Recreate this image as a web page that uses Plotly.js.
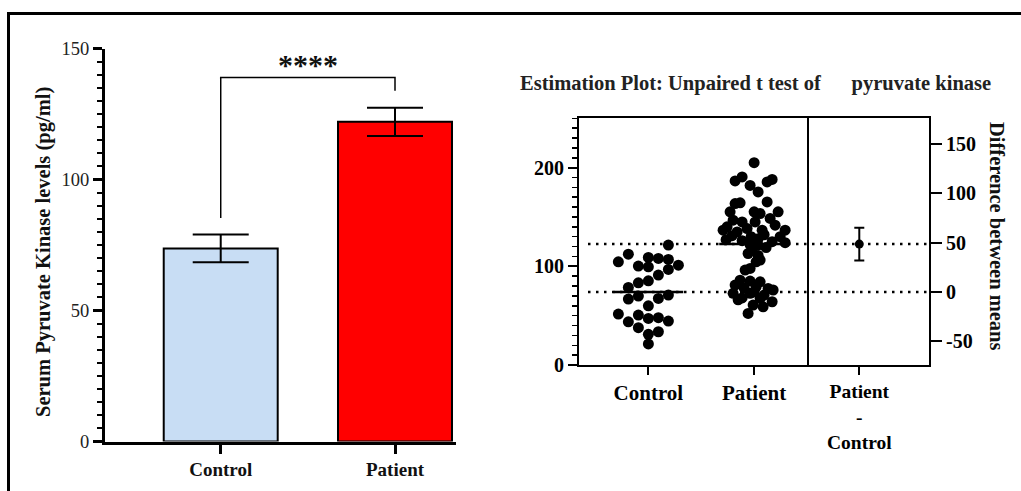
<!DOCTYPE html>
<html>
<head>
<meta charset="utf-8">
<script src="https://cdn.plot.ly/plotly-3.0.1.min.js"></script>
<style>html,body{margin:0;padding:0;background:#fff;}#chart{width:1021px;height:491px;}</style>
</head>
<body>
<div id="chart"></div>
<script>
// ---------- data ----------
const categories = ['Control', 'Patient'];
const barMeans = [73.7, 122.0];
const barSEM = [5.3, 5.35];
const barColors = ['#c8ddf4', '#ff0000'];
const bracketBase = [85.3, 133.9];
const bracketTop = 138.9;
const sigLabel = '****';

const ctrlValues = [121.5, 112.3, 104.6, 109, 108, 107, 100.2, 99.5, 101.2, 96.9, 91.1, 85.3, 83.3, 78.6,
  66.8, 69.8, 67.5, 70.9, 60, 51.6, 43.8, 50.6, 47.2, 47.9, 44.5, 37.8, 31.1, 33.7, 21.3];
const ctrlSlots = [2, -2, -3, 0, 1, 2, -1, 0, 3, 2, 1, 0, -1, -2, -2, -1, 1, 2, 0, -3, -2, -1, 0, 1, 2, -1, 0, 1, 0];

const patValues = [205, 190.6, 186.5, 182, 175.4, 185.5, 188, 165.3, 164.3, 163.6,
  155.2, 155.2, 153.5, 155.2, 146.8, 145, 145, 148.5, 140, 138.3,
  141.7, 136.6, 134.9, 136.6, 136.6, 131, 130, 132, 130,
  127, 126, 128, 125, 124, 122, 121.5, 119,
  116, 113, 111, 106.3, 104.6, 97.9, 96.2,
  86, 84.3, 85, 81, 79.3, 77.6, 76, 72.6, 72.6, 70.9, 68, 66, 67.5, 64.1, 60.7, 59, 52.3, 78, 74];
const patSlots = [0, -1.2, -1.9, -0.4, 0.4, 1.3, 1.8, 1.3, -1.4, -1.9,
  -2.4, 0, 0.6, 2.4, -2.1, -1.2, 0.1, 1.6, -2.7, -0.7,
  2.1, -3.1, -1.7, 0.8, 3.1, -2.2, -0.3, 1.0, 2.6,
  -2.8, -1.2, 0.4, 1.8, 3.1, -0.4, 0.4, 1.2,
  -0.2, -0.6, 0.4, 0.6, 0.2, -0.4, -0.9,
  -1.4, 0.6, -0.4, -1.9, 0.2, 1.4, 1.9, -2.1, -0.4, 1.0, -1.2, -1.6, 0.6, 1.8, -0.1, 0.9, -0.6, -1.0, 0.0];

const groupMeans = [74, 122.5];
const diffLabel = ['Patient<br>-<br>Control'];
const diffMean = [48.5];
const diffCILow = [32];
const diffCIHigh = [65];
const rightTicks = [-50, 0, 50, 100, 150];

// ---------- layout helpers ----------
const W = 1021, H = 491;
const px = v => v / W;
const py = v => 1 - v / H;
const SERIF = 'Liberation Serif';
const slotW = 0.0946;

const traces = [];
traces.push({
  type: 'bar', x: [0, 1], y: barMeans, width: 0.654,
  marker: {color: barColors, line: {color: '#000', width: 2}},
  error_y: {type: 'data', array: barSEM, visible: true, color: '#000', thickness: 2, width: 28},
  xaxis: 'x', yaxis: 'y', hoverinfo: 'none'
});
traces.push({
  type: 'scatter', mode: 'markers', xaxis: 'x2', yaxis: 'y2',
  x: ctrlSlots.map(s => 0 + s * slotW), y: ctrlValues,
  marker: {color: '#000', size: 11}, hoverinfo: 'none'
});
traces.push({
  type: 'scatter', mode: 'markers', xaxis: 'x2', yaxis: 'y2',
  x: patSlots.map(s => 1 + s * slotW), y: patValues,
  marker: {color: '#000', size: 11}, hoverinfo: 'none'
});
groupMeans.forEach((m, i) => {
  traces.push({
    type: 'scatter', mode: 'lines', xaxis: 'x2', yaxis: 'y2',
    x: [i - 0.33, i + 0.33], y: [m, m], line: {color: '#000', width: 2.5}, hoverinfo: 'none'
  });
});
traces.push({
  type: 'scatter', mode: 'markers', xaxis: 'x3', yaxis: 'y3',
  x: [0], y: diffMean, marker: {color: '#000', size: 9},
  error_y: {type: 'data', symmetric: false,
    array: diffCIHigh.map((h, i) => h - diffMean[i]),
    arrayminus: diffCILow.map((l, i) => diffMean[i] - l),
    color: '#000', thickness: 2, width: 5},
  hoverinfo: 'none'
});

const shapes = [
  // outer frame (top & left)
  {type: 'line', xref: 'paper', yref: 'paper', x0: px(7), x1: 1, y0: py(13.5), y1: py(13.5), line: {color: '#000', width: 3}},
  {type: 'line', xref: 'paper', yref: 'paper', x0: px(8.5), x1: px(8.5), y0: 0, y1: py(12), line: {color: '#000', width: 3}},
  // significance bracket
  {type: 'path', xref: 'x', yref: 'y',
   path: `M 0,${bracketBase[0]} L 0,${bracketTop} L 1,${bracketTop} L 1,${bracketBase[1]}`,
   line: {color: '#000', width: 1.5}}
];
groupMeans.forEach(m => {
  shapes.push({type: 'line', xref: 'paper', yref: 'y2', x0: px(588), x1: px(929), y0: m, y1: m,
    line: {color: '#000', width: 2.5, dash: '2.5px,5.5px'}});
});

const axBase = {showgrid: false, zeroline: false, showline: true, linecolor: '#000', ticks: 'outside', tickcolor: '#000', fixedrange: true};

const layout = {
  width: W, height: H, margin: {l: 0, r: 0, t: 0, b: 0},
  paper_bgcolor: '#fff', plot_bgcolor: 'rgba(0,0,0,0)', showlegend: false,
  font: {family: SERIF, color: '#000'},
  xaxis: Object.assign({}, axBase, {
    domain: [px(105), px(456)], range: [-0.664, 1.35], anchor: 'y',
    linewidth: 3, ticklen: 9, tickwidth: 3, tickvals: [0, 1], ticktext: categories,
    tickfont: {family: SERIF, size: 19, color: '#111', weight: 'bold'}
  }),
  yaxis: Object.assign({}, axBase, {
    domain: [1 - 441.5 / H, 1 - 48.5 / H], range: [0, 150], anchor: 'x',
    linewidth: 3, ticklen: 9, tickwidth: 3, tick0: 0, dtick: 50,
    minor: {dtick: 5, ticklen: 5, tickwidth: 2, ticks: 'outside', tickcolor: '#000'},
    tickfont: {family: SERIF, size: 18.5, color: '#222'}
  }),
  xaxis2: Object.assign({}, axBase, {
    domain: [px(579), px(807)], range: [-0.656, 1.5], anchor: 'y2', mirror: true,
    linewidth: 2, ticklen: 8, tickwidth: 2, tickvals: [0, 1], ticktext: categories,
    tickfont: {family: SERIF, size: 21, weight: 'bold'}
  }),
  yaxis2: Object.assign({}, axBase, {
    domain: [1 - 365 / H, 1 - 118.3 / H], range: [0, 250], anchor: 'x2', mirror: true,
    linewidth: 2, ticklen: 9, tickwidth: 2, tick0: 0, dtick: 100,
    minor: {dtick: 10, ticklen: 5, tickwidth: 1.5, ticks: 'outside', tickcolor: '#000'},
    tickfont: {family: SERIF, size: 20, weight: 'bold'}
  }),
  xaxis3: Object.assign({}, axBase, {
    domain: [px(807), px(929)], range: [-0.495, 0.66], anchor: 'y3', mirror: true,
    linewidth: 2, ticklen: 8, tickwidth: 2, tickvals: [0], ticktext: diffLabel,
    tickfont: {family: SERIF, size: 19.5, weight: 'bold'}
  }),
  yaxis3: Object.assign({}, axBase, {
    domain: [1 - 365 / H, 1 - 118.3 / H], range: [-groupMeans[0], 250 - groupMeans[0]], anchor: 'x3', side: 'right', mirror: false,
    linewidth: 2, ticklen: 11, tickwidth: 2, tickvals: rightTicks, ticktext: rightTicks.map(String),
    tickfont: {family: SERIF, size: 20, weight: 'bold'}
  }),
  shapes: shapes,
  annotations: [
    {xref: 'paper', yref: 'paper', x: px(43), y: py(252), text: 'Serum Pyruvate Kinase levels (pg/ml)',
     textangle: -90, showarrow: false, xanchor: 'center', yanchor: 'middle',
     font: {family: SERIF, size: 20.5, weight: 'bold', color: '#111'}},
    {xref: 'x', yref: 'y', x: 0.5, y: 136.8, text: sigLabel, showarrow: false, xanchor: 'center', yanchor: 'bottom',
     font: {family: SERIF, size: 30, weight: 'bold', color: '#111'}},
    {xref: 'paper', yref: 'paper', x: px(755), y: py(83), text: 'Estimation Plot: Unpaired t test of\u00a0\u00a0\u00a0\u00a0\u00a0 pyruvate kinase',
     showarrow: false, xanchor: 'center', yanchor: 'middle',
     font: {family: SERIF, size: 20.5, weight: 'bold', color: '#222'}},
    {xref: 'paper', yref: 'paper', x: px(997), y: py(236), text: 'Difference between means',
     textangle: 90, showarrow: false, xanchor: 'center', yanchor: 'middle',
     font: {family: SERIF, size: 20.5, weight: 'bold', color: '#111'}}
  ]
};

Plotly.newPlot('chart', traces, layout, {staticPlot: true, displayModeBar: false});
</script>
</body>
</html>
